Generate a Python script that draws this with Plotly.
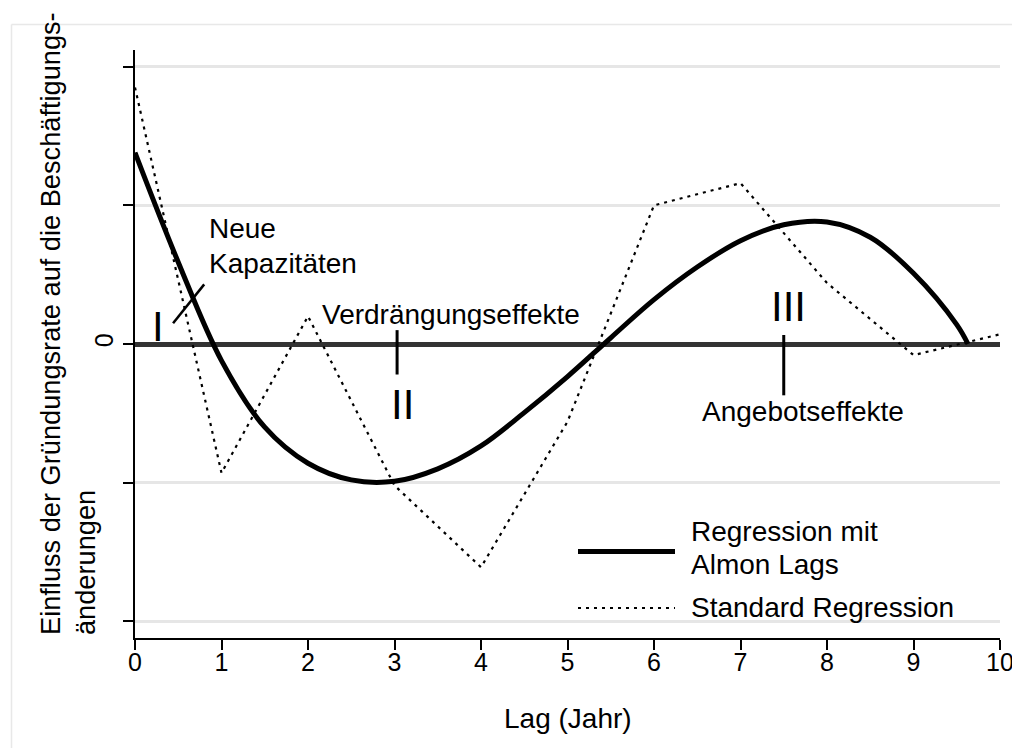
import plotly.graph_objects as go

# ---- data ----
lag_almon = [0, 0.5, 1, 1.5, 2, 2.5, 3, 3.5, 4, 4.5, 5, 5.5, 6, 6.5, 7, 7.5, 8, 8.5, 9, 9.5, 9.63]
almon = [1.38, 0.59, -0.12, -0.60, -0.86, -0.98, -0.99, -0.90, -0.735, -0.495, -0.235, 0.045,
         0.32, 0.555, 0.745, 0.86, 0.88, 0.77, 0.51, 0.14, 0.0]

lag_std = [0, 1, 2, 3, 4, 5, 6, 7, 8, 9, 10]
std = [1.85, -0.93, 0.20, -1.02, -1.61, -0.56, 1.00, 1.16, 0.44, -0.08, 0.07]

x_ticks = [0, 1, 2, 3, 4, 5, 6, 7, 8, 9, 10]
y_ticks = [-2, -1, 0, 1, 2]
y_ticktext = ["", "", "0", "", ""]

FONT = "Liberation Sans, Arial, Helvetica, sans-serif"
FS = 28
TICK_FS = 25

fig = go.Figure()
fig.add_trace(go.Scatter(x=lag_std, y=std, mode="lines", name="Standard Regression",
                         line=dict(color="black", width=2.2, dash="3px,5px")))
fig.add_trace(go.Scatter(x=lag_almon, y=almon, mode="lines", name="Regression mit Almon Lags",
                         line=dict(color="black", width=5, shape="spline", smoothing=1.0)))

# The page body adds an 8px margin, so the figure is made smaller (no scrollbars) and
# everything is laid out in page pixels (plot area: x 135..1000, y 50..638).
OFF = 8
W, H = 1020 - OFF, 756 - 2 * OFF
PL, PR, PT, PB = 135, 1000, 50, 638          # plot area in page pixels
L, T = PL - OFF, PT - OFF
R, B = W - (PR - OFF), H - (PB - OFF)
PW, PH = PR - PL, PB - PT
def px(xp):
    return (xp - PL) / PW
def py(yp):
    return (PB - yp) / PH

shapes = []
# outer light frame (only its top and left edges are inside the picture)
shapes.append(dict(type="line", xref="paper", yref="paper",
                   x0=px(11.5), x1=px(1040), y0=py(24.5), y1=py(24.5),
                   line=dict(color="#e8e8e8", width=1.5), layer="below"))
shapes.append(dict(type="line", xref="paper", yref="paper",
                   x0=px(11.5), x1=px(11.5), y0=py(24.5), y1=py(790),
                   line=dict(color="#e8e8e8", width=1.5), layer="below"))
# pointer lines
shapes.append(dict(type="line", xref="x", yref="y", x0=0.44, y0=0.15, x1=0.80, y1=0.43,
                   line=dict(color="black", width=2.5)))
shapes.append(dict(type="line", xref="x", yref="y", x0=3.03, y0=0.10, x1=3.03, y1=-0.22,
                   line=dict(color="black", width=3)))
shapes.append(dict(type="line", xref="x", yref="y", x0=7.50, y0=0.065, x1=7.50, y1=-0.37,
                   line=dict(color="black", width=3)))
# legend samples
shapes.append(dict(type="line", xref="paper", yref="paper", x0=px(578), x1=px(675),
                   y0=py(551.5), y1=py(551.5), line=dict(color="black", width=5)))
shapes.append(dict(type="line", xref="paper", yref="paper", x0=px(578), x1=px(675),
                   y0=py(608), y1=py(608), line=dict(color="black", width=2.2, dash="3px,5px")))

ann = []
def text(x, y, t, size=FS, xanchor="left", xref="paper", yref="paper", align="left"):
    ann.append(dict(x=x, y=y, xref=xref, yref=yref, text=t, showarrow=False,
                    xanchor=xanchor, yanchor="middle", align=align,
                    font=dict(family=FONT, size=size, color="black")))

text(px(207), py(229), "Neue")
text(px(207), py(263), "Kapazitäten")
text(px(320), py(314), "Verdrängungseffekte")
text(px(803), py(411), "Angebotseffekte", xanchor="center")
text(px(157.5), py(326), "I", size=42, xanchor="center")
text(px(402), py(404), "II", size=42, xanchor="center")
text(px(788), py(306), "III", size=42, xanchor="center")
# legend text
text(px(689), py(531), "Regression mit")
text(px(689), py(564), "Almon Lags")
text(px(689), py(607), "Standard Regression")
# y-axis title (two lines, bottom aligned)
ann.append(dict(x=px(68), y=py(324), xref="paper", yref="paper",
                text="Einfluss der Gründungsrate auf die Beschäftigungs-<br>änderungen",
                showarrow=False, textangle=-90, align="left", xanchor="center", yanchor="middle",
                font=dict(family=FONT, size=27.2, color="black")))
# x-axis title
text(px(567.5), py(718), "Lag (Jahr)", xanchor="center")

fig.update_layout(
    width=W, height=H,
    margin=dict(l=L, r=R, t=T, b=B, autoexpand=False),
    plot_bgcolor="white", paper_bgcolor="white",
    showlegend=False,
    font=dict(family=FONT, size=FS, color="black"),
    shapes=shapes, annotations=ann,
    xaxis=dict(range=[0, 10], tickvals=x_ticks, showline=True, linecolor="black", linewidth=1.5,
               ticks="outside", ticklen=10, tickwidth=1.5, tickcolor="black",
               showgrid=False, zeroline=False, automargin=False,
               ticklabelstandoff=-9, tickfont=dict(size=TICK_FS)),
    yaxis=dict(range=[-2.12, 2.12], tickvals=y_ticks, ticktext=y_ticktext, tickangle=-90,
               showline=True, linecolor="black", linewidth=1.5,
               ticks="outside", ticklen=10, tickwidth=1.5, tickcolor="black",
               showgrid=True, gridcolor="#e6e6e6", gridwidth=3, automargin=False,
               zeroline=True, zerolinecolor="#333333", zerolinewidth=5,
               tickfont=dict(size=TICK_FS)),
)

fig.write_html("out.html")
